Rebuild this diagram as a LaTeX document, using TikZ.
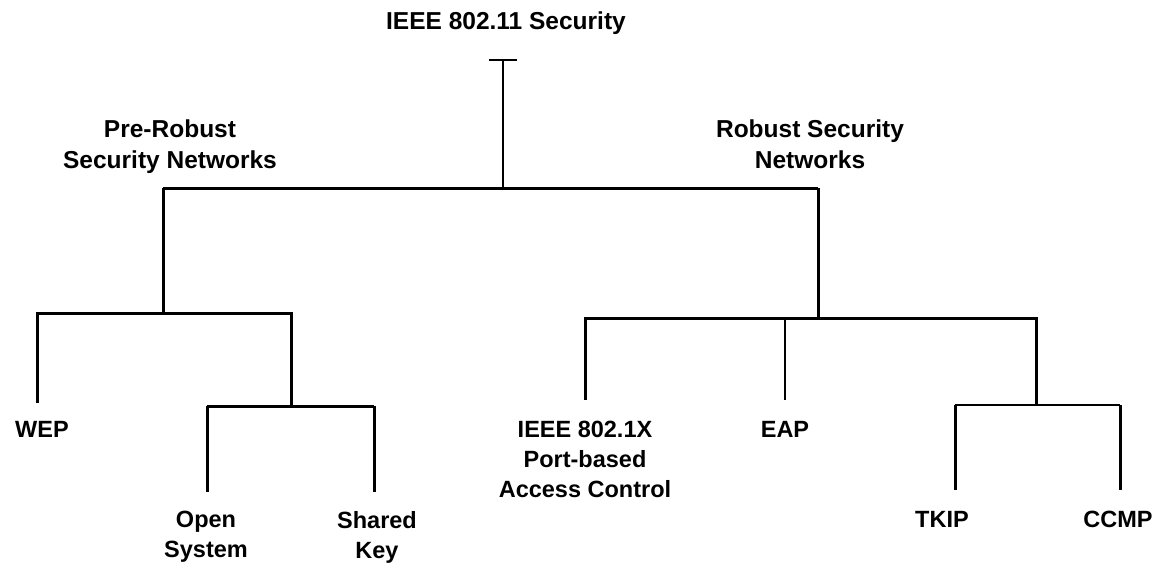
\documentclass[tikz,border=0pt]{standalone}
\usepackage{fontspec}
\setmainfont{Liberation Sans}
\begin{document}
\begin{tikzpicture}[x=1pt,y=-1pt,
  lbl/.style={font=\bfseries\fontsize{23.5}{30}\selectfont, align=center, inner sep=0pt, anchor=north},
  head/.style={lbl, font=\bfseries\fontsize{24.5}{31}\selectfont},
  heavy/.style={line width=3pt},
  light/.style={line width=2.2pt}]
\useasboundingbox (0,0) rectangle (1170,570);
% labels
\node[head] (title)  at (506,12)  {IEEE 802.11 Security};
\node[head] (pre)    at (170,120) {Pre-Robust\\Security Networks};
\node[head] (rsn)    at (810,120) {Robust Security\\Networks};
\node[lbl] (wep)    at (42,421)  {WEP};
\node[lbl] (open)   at (206,511) {Open\\System};
\node[lbl] (shared) at (377,511) {Shared\\Key};
\node[lbl] (ieee)   at (585,421) {IEEE 802.1X\\Port-based\\Access Control};
\node[lbl] (eap)    at (785,421) {EAP};
\node[lbl] (tkip)   at (942,511) {TKIP};
\node[lbl] (ccmp)   at (1118,511){CCMP};
% junctions
\coordinate (stemL) at (489,60);
\coordinate (stemR) at (517,60);
\coordinate (stemT) at (503,60);
\coordinate (root)  at (503,188);
\coordinate (preJ)  at (163,188);
\coordinate (rsnJ)  at (818,188);
\coordinate (preB)  at (163,313);
\coordinate (wepT)  at (37,313);
\coordinate (authT) at (291,313);
\coordinate (authB) at (291,406);
\coordinate (openT) at (207,406);
\coordinate (shT)   at (374,406);
\coordinate (rsnB)  at (818,318);
\coordinate (ieeeT) at (585,318);
\coordinate (eapT)  at (785,318);
\coordinate (encT)  at (1036,318);
\coordinate (encB)  at (1036,405);
\coordinate (tkipT) at (955,405);
\coordinate (ccmpT) at (1120,405);
% connectors
\draw[light] (stemL) -- (stemR);
\draw[light] (stemT) -- (root);
\draw[heavy] (preJ) -- (rsnJ);
\draw[heavy] (preJ) -- (preB);
\draw[heavy] (rsnJ) -- (rsnB);
\draw[heavy] ([xshift=-5pt,yshift=18pt]wep.north) -- (wepT) -- (authT) -- (authB);
\draw[heavy] (openT) -- (shT);
\draw[heavy] (openT) -- ([xshift=1pt,yshift=19pt]open.north);
\draw[heavy] (shT) -- ([xshift=-3pt,yshift=19pt]shared.north);
\draw[heavy] ([yshift=21pt]ieee.north) -- (ieeeT) -- (encT) -- (encB);
\draw[light] (eapT) -- ([yshift=21pt]eap.north);
\draw[light] (tkipT) -- (ccmpT);
\draw[heavy] (tkipT) -- ([xshift=13pt,yshift=21pt]tkip.north);
\draw[heavy] (ccmpT) -- ([xshift=2pt,yshift=21pt]ccmp.north);
\end{tikzpicture}
\end{document}
